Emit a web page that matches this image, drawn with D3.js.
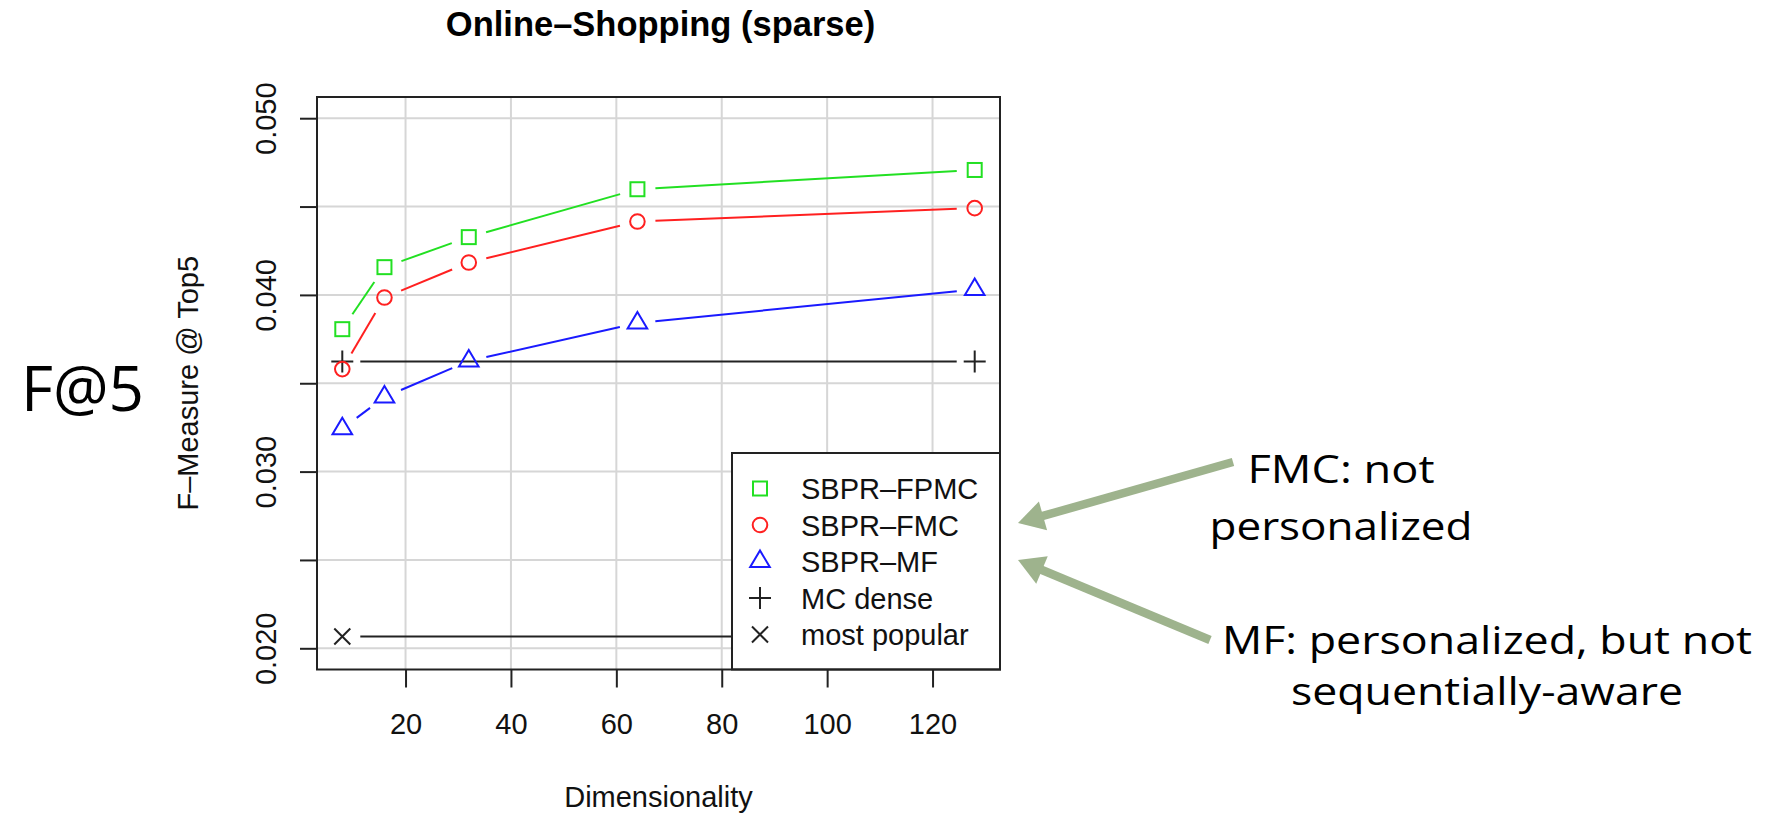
<!DOCTYPE html>
<html>
<head>
<meta charset="utf-8">
<script src="https://cdn.jsdelivr.net/npm/d3@7"></script>
<style>
  body { margin: 0; background: #fff; }
  svg { display: block; }
</style>
</head>
<body>
<svg id="chart" width="1768" height="816"></svg>
<script>
// data
const dims = [8, 16, 32, 64, 128];
const fpmc = [0.03806, 0.04157, 0.04327, 0.04598, 0.04707];
const fmc = [0.03580, 0.03985, 0.04183, 0.04415, 0.04491];
const mf = [0.03243, 0.03422, 0.03626, 0.03841, 0.04031];
const mcDims = [8, 128];
const mcDense = [0.03623, 0.03623];
const mostPopular = [0.02067, 0.02067];
const xTicks = [20, 40, 60, 80, 100, 120];
const yTicks = [0.020, 0.025, 0.030, 0.035, 0.040, 0.045, 0.050];
const yLabelled = ["0.020", "0.030", "0.040", "0.050"];
const legendNames = ["SBPR\u2013FPMC", "SBPR\u2013FMC", "SBPR\u2013MF", "MC dense", "most popular"];

const W = 1768, H = 816;
const m = { left: 317, right: 1000, top: 97, bottom: 669.5 };
const RFONT = "'Liberation Sans', Arial, Helvetica, sans-serif";
const SFONT = "'Open Sans', 'Noto Sans', sans-serif";

const svg = d3.select("#chart");
svg.append("rect").attr("width", W).attr("height", H).attr("fill", "#fff");

// R style: xlim / ylim padded by 4%
const x = d3.scaleLinear().domain([3.2, 132.8]).range([m.left, m.right]);
const y = d3.scaleLinear().domain([0.0188, 0.0512]).range([m.bottom, m.top]);

// title
svg.append("text")
  .attr("x", (m.left + m.right) / 2 + 2).attr("y", 36)
  .attr("text-anchor", "middle")
  .style("font-family", RFONT).style("font-size", "34.5px").style("font-weight", "bold")
  .text("Online\u2013Shopping (sparse)");

// grid
const grid = svg.append("g").attr("stroke", "#d6d6d6").attr("stroke-width", 2);
grid.selectAll("line.v").data(xTicks).join("line").attr("class", "v")
  .attr("x1", d => x(d)).attr("x2", d => x(d)).attr("y1", m.top).attr("y2", m.bottom);
grid.selectAll("line.h").data(yTicks).join("line").attr("class", "h")
  .attr("y1", d => y(d)).attr("y2", d => y(d)).attr("x1", m.left).attr("x2", m.right);

// axes
svg.append("g")
  .attr("transform", `translate(0,${m.bottom})`)
  .call(d3.axisBottom(x).tickValues(xTicks).tickSize(18).tickPadding(26))
  .call(ax => {
    ax.select(".domain").remove();
    ax.selectAll(".tick line").attr("stroke", "#222").attr("stroke-width", 2);
    ax.selectAll(".tick text").attr("fill", "#111").style("font-family", RFONT).style("font-size", "29px");
  });

svg.append("g")
  .attr("transform", `translate(${m.left},0)`)
  .call(d3.axisLeft(y).tickValues(yTicks).tickSize(17)
    .tickFormat(d => { const s = d3.format(".3f")(d); return yLabelled.includes(s) ? s : ""; }))
  .call(ax => {
    ax.select(".domain").remove();
    ax.selectAll(".tick line").attr("stroke", "#222").attr("stroke-width", 2);
    ax.selectAll(".tick text")
      .attr("x", null).attr("dy", null)
      .attr("text-anchor", "middle")
      .attr("transform", "translate(-41,0) rotate(-90)")
      .attr("fill", "#111").style("font-family", RFONT).style("font-size", "29px");
  });

// axis titles
svg.append("text")
  .attr("x", (m.left + m.right) / 2).attr("y", 807)
  .attr("text-anchor", "middle")
  .style("font-family", RFONT).style("font-size", "29px").attr("fill", "#111")
  .text("Dimensionality");
svg.append("text")
  .attr("transform", `translate(198,${(m.top + m.bottom) / 2}) rotate(-90)`)
  .attr("text-anchor", "middle")
  .style("font-family", RFONT).style("font-size", "29px").attr("fill", "#111")
  .text("F\u2013Measure @ Top5");

// type="b" lines: segments with a gap round each point
const GAP = 18;
function gappedLine(g, xs, ys, color) {
  const pts = xs.map((d, i) => [x(d), y(ys[i])]);
  const segs = d3.pairs(pts).map(([a, b]) => {
    const dx = b[0] - a[0], dy = b[1] - a[1], L = Math.hypot(dx, dy);
    if (L <= 2 * GAP) return null;
    const ux = dx / L, uy = dy / L;
    return [a[0] + ux * GAP, a[1] + uy * GAP, b[0] - ux * GAP, b[1] - uy * GAP];
  }).filter(Boolean);
  g.selectAll(null).data(segs).join("line")
    .attr("x1", d => d[0]).attr("y1", d => d[1]).attr("x2", d => d[2]).attr("y2", d => d[3])
    .attr("stroke", color).attr("stroke-width", 2);
  return pts;
}

const shapes = {
  square: (s, c) => s.append("rect").attr("x", -7).attr("y", -7).attr("width", 14).attr("height", 14)
    .attr("fill", "none").attr("stroke", c).attr("stroke-width", 2),
  circle: (s, c) => s.append("circle").attr("r", 7.3)
    .attr("fill", "none").attr("stroke", c).attr("stroke-width", 2),
  triangle: (s, c) => s.append("path").attr("d", "M0,-11L9.8,5.5L-9.8,5.5Z")
    .attr("fill", "none").attr("stroke", c).attr("stroke-width", 2),
  plus: (s, c) => s.append("path").attr("d", "M-11,0H11M0,-11V11")
    .attr("fill", "none").attr("stroke", c).attr("stroke-width", 2),
  cross: (s, c) => s.append("path").attr("d", "M-8,-8L8,8M-8,8L8,-8")
    .attr("fill", "none").attr("stroke", c).attr("stroke-width", 2)
};

const series = [
  { xs: dims, ys: fpmc, color: "#22e022", shape: "square" },
  { xs: dims, ys: fmc, color: "#ff2020", shape: "circle" },
  { xs: dims, ys: mf, color: "#1a1aff", shape: "triangle" },
  { xs: mcDims, ys: mcDense, color: "#222", shape: "plus" },
  { xs: mcDims, ys: mostPopular, color: "#222", shape: "cross" }
];

const plot = svg.append("g");
series.slice().reverse().forEach(s => {
  const g = plot.append("g");
  const pts = gappedLine(g, s.xs, s.ys, s.color);
  pts.forEach(p => shapes[s.shape](g.append("g").attr("transform", `translate(${p[0]},${p[1]})`), s.color));
});

// legend (bottom right, white fill)
const lg = svg.append("g");
lg.append("rect").attr("x", 732).attr("y", 453).attr("width", m.right - 732).attr("height", m.bottom - 453)
  .attr("fill", "#fff").attr("stroke", "#222").attr("stroke-width", 2);
series.forEach((s, i) => {
  const cy = 488.5 + i * 36.5;
  shapes[s.shape](lg.append("g").attr("transform", `translate(760,${cy})`), s.color);
  lg.append("text").attr("x", 801).attr("y", cy + 10.5)
    .style("font-family", RFONT).style("font-size", "29px").attr("fill", "#111")
    .text(legendNames[i]);
});

// plot box
svg.append("rect").attr("x", m.left).attr("y", m.top)
  .attr("width", m.right - m.left).attr("height", m.bottom - m.top)
  .attr("fill", "none").attr("stroke", "#222").attr("stroke-width", 2);

// slide annotations
svg.append("text").attr("x", 21).attr("y", 411)
  .style("font-family", SFONT).style("font-size", "62px").attr("fill", "#000")
  .text("F@5");

const notes = [
  { text: "FMC: not", cx: 1341, y: 483, w: 187 },
  { text: "personalized", cx: 1341, y: 540, w: 263 },
  { text: "MF: personalized, but not", cx: 1487, y: 654, w: 530 },
  { text: "sequentially-aware", cx: 1487, y: 705, w: 392 }
];
svg.selectAll("text.note").data(notes).join("text").attr("class", "note")
  .attr("x", d => d.cx).attr("y", d => d.y).attr("text-anchor", "middle")
  .attr("textLength", d => d.w).attr("lengthAdjust", "spacingAndGlyphs")
  .style("font-family", SFONT).style("font-size", "38px").attr("fill", "#000")
  .text(d => d.text);

const arrows = [
  { from: [1233, 462], to: [1018, 523] },
  { from: [1210, 640], to: [1018, 560] }
];
const AC = "#9eb38d";
arrows.forEach(a => {
  const dx = a.to[0] - a.from[0], dy = a.to[1] - a.from[1], L = Math.hypot(dx, dy);
  const ux = dx / L, uy = dy / L, head = 26, hw = 15;
  const bx = a.to[0] - ux * head, by = a.to[1] - uy * head;
  svg.append("line").attr("x1", a.from[0]).attr("y1", a.from[1]).attr("x2", bx + ux * 2).attr("y2", by + uy * 2)
    .attr("stroke", AC).attr("stroke-width", 8.5);
  svg.append("path")
    .attr("d", `M${a.to[0]},${a.to[1]}L${bx - uy * hw},${by + ux * hw}L${bx + uy * hw},${by - ux * hw}Z`)
    .attr("fill", AC);
});
</script>
</body>
</html>
